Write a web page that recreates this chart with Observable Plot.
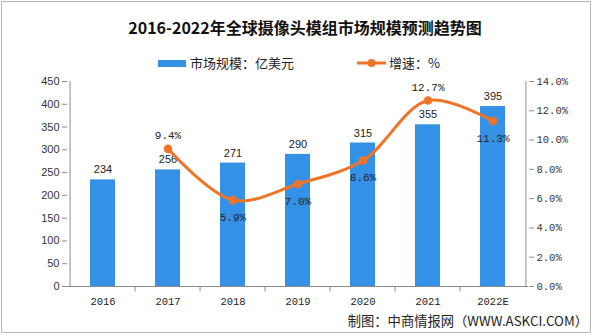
<!DOCTYPE html>
<html>
<head>
<meta charset="utf-8">
<script src="https://cdn.jsdelivr.net/npm/d3@7"></script>
<script src="https://cdn.jsdelivr.net/npm/@observablehq/plot@0.6"></script>
<style>
  html, body { margin: 0; padding: 0; background: #fff; }
  #wrap { position: relative; width: 600px; height: 336px; overflow: hidden; background: #fff; }
  #frame { position: absolute; left: 1px; top: 1px; width: 590px; height: 332px; border: 1px solid #b8b8b8; box-sizing: border-box; pointer-events: none; }
  #title { position: absolute; left: 0; top: 15px; width: 610px; text-align: center; font-family: "Noto Sans CJK SC", sans-serif; font-weight: bold; font-size: 16px; color: #111; }
  #legend { position: absolute; top: 53px; left: 0; height: 20px; font-family: "Noto Sans CJK SC", sans-serif; font-size: 13px; color: #222; }
  .item { position: absolute; top: 0; white-space: nowrap; line-height: 20px; }
  #caption { position: absolute; right: 12px; top: 311px; font-family: "Noto Sans CJK SC", sans-serif; font-size: 13.3px; color: #222; white-space: nowrap; }
  #plot { position: absolute; left: 0; top: 0; }
</style>
</head>
<body>
<div id="wrap">
  <div id="plot"></div>
  <div id="title">2016-2022年全球摄像头模组市场规模预测趋势图</div>
  <div id="legend"></div>
  <div id="caption">制图：中商情报网（WWW.ASKCI.COM）</div>
  <div id="frame"></div>
</div>
<script>
// ---- data ----
const years = ["2016", "2017", "2018", "2019", "2020", "2021", "2022E"];
const marketSize = [234, 256, 271, 290, 315, 355, 395];          // 亿美元
const growthYears = ["2017", "2018", "2019", "2020", "2021", "2022E"];
const growthRate = [9.4, 5.9, 7.0, 8.6, 12.7, 11.3];            // %
const leftTicks = [0, 50, 100, 150, 200, 250, 300, 350, 400, 450];
const rightTicks = [0, 2, 4, 6, 8, 10, 12, 14];
const seriesNames = ["市场规模：亿美元", "增速：%"];

const barColor = "#3591e6";
const lineColor = "#ef7526";

const leftMax = 450, rightMax = 14;
const k = leftMax / rightMax; // map percent onto left scale

const bars = years.map((y, i) => ({year: y, value: marketSize[i]}));
const growth = growthYears.map((y, i) => {
  const prev = growthRate[i - 1], next = growthRate[i + 1];
  const v = growthRate[i];
  const peak = (prev === undefined || v > prev) && (next === undefined || v > next);
  return {year: y, rate: v, yv: v * k, above: peak};
});

const W = 600, H = 336;
const mL = 67, mR = 72, mT = 81, mB = 50;
const step = (W - mL - mR) / years.length;
const mono = "Liberation Mono, DejaVu Sans Mono, monospace";

const plot = Plot.plot({
  width: W, height: H,
  marginLeft: mL, marginRight: mR, marginTop: mT, marginBottom: mB,
  style: {fontFamily: "Liberation Sans, Arial, sans-serif", fontSize: "11px", color: "#333", background: "transparent"},
  x: {domain: years, paddingInner: 0.62, paddingOuter: 0.31, label: null},
  y: {domain: [0, leftMax], label: null},
  marks: [
    Plot.barY(bars, {x: "year", y: "value", fill: barColor}),
    // axis lines
    Plot.ruleY([0], {stroke: "#8c8c8c", strokeWidth: 1}),
    Plot.ruleX([years[0]], {y1: 0, y2: leftMax, dx: -step / 2, stroke: "#8c8c8c"}),
    Plot.ruleX([years[years.length - 1]], {y1: 0, y2: leftMax, dx: step / 2, stroke: "#8c8c8c"}),
    // category boundary ticks
    Plot.ruleX(years.slice(1), {y1: 0, y2: -12, dx: -step / 2, stroke: "#8c8c8c"}),
    Plot.axisY(leftTicks, {anchor: "left", tickSize: 5, tickPadding: 3, stroke: "#8c8c8c", fill: "#333", fontSize: 11, label: null}),
    Plot.axisY(rightTicks.map(v => v * k), {anchor: "right", tickSize: 5, tickPadding: 3, stroke: "#8c8c8c", fill: "#333",
      fontFamily: mono, fontSize: 10.5,
      tickFormat: d => (d / k).toFixed(1) + "%", label: null}),
    Plot.axisX(years, {anchor: "bottom", tickSize: 0, tickPadding: 11, fill: "#222",
      fontFamily: mono, fontSize: 10.5, label: null}),
    // bar labels
    Plot.text(bars, {x: "year", y: "value", text: d => String(d.value), dy: -10, fill: "#222", fontSize: 11}),
    // growth line
    Plot.line(growth, {x: "year", y: "yv", stroke: lineColor, strokeWidth: 3, curve: "catmull-rom"}),
    Plot.dot(growth, {x: "year", y: "yv", fill: lineColor, r: 4.3}),
    Plot.text(growth, {x: "year", y: "yv", text: d => d.rate.toFixed(1) + "%",
      fill: "#222", fontSize: 11, fontFamily: mono, filter: d => d.above, dy: -13}),
    Plot.text(growth, {x: "year", y: "yv", text: d => d.rate.toFixed(1) + "%",
      fill: "#222", fontSize: 11, fontFamily: mono, filter: d => !d.above, dy: 17})
  ]
});
document.getElementById("plot").appendChild(plot);

// legend
const legend = document.getElementById("legend");
legend.innerHTML = `
  <div class="item" style="left:158px;"><span style="display:inline-block;width:28px;height:7px;background:${barColor};vertical-align:middle;margin-right:4px;position:relative;top:-1px;"></span>${seriesNames[0]}</div>
  <div class="item" style="left:357px;"><svg width="29" height="10" style="vertical-align:middle;margin-right:3px;position:relative;top:-1px;"><line x1="0" y1="5" x2="29" y2="5" stroke="${lineColor}" stroke-width="3"/><circle cx="14.5" cy="5" r="4" fill="${lineColor}"/></svg>${seriesNames[1]}</div>`;
</script>
</body>
</html>
